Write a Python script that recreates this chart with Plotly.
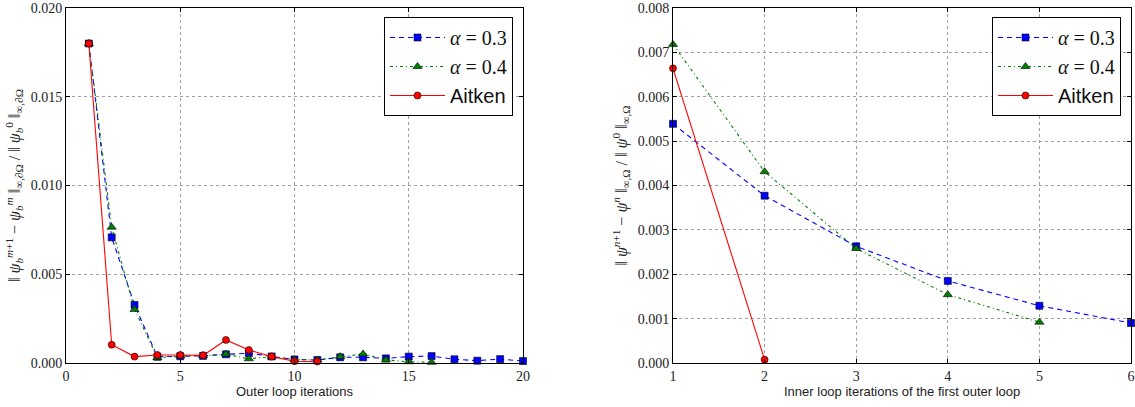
import plotly.graph_objects as go

# ---------------- data ----------------
outer_x_a03 = list(range(1, 21))
outer_a03 = [0.018, 0.00708, 0.00327, 0.00035, 0.00038, 0.00040, 0.00049, 0.00055, 0.00037, 0.00020,
             0.00017, 0.00032, 0.00032, 0.00026, 0.00036, 0.00039, 0.00021, 0.00013, 0.00022, 0.00011]
outer_x_a04 = list(range(1, 17))
outer_a04 = [0.018, 0.00765, 0.00302, 0.00030, 0.00040, 0.00042, 0.00050, 0.00024, 0.00035, 0.00020,
             0.00017, 0.00036, 0.00051, 0.00017, 0.00007, 0.00004]
outer_x_ait = list(range(1, 12))
outer_ait = [0.018, 0.00103, 0.00036, 0.00045, 0.00045, 0.00043, 0.00130, 0.00073, 0.00036, 0.00010, 0.00008]

inner_x_a03 = [1, 2, 3, 4, 5, 6]
inner_a03 = [0.00539, 0.00377, 0.00263, 0.00185, 0.00129, 0.00090]
inner_x_a04 = [1, 2, 3, 4, 5]
inner_a04 = [0.00718, 0.00431, 0.00258, 0.00154, 0.00092]
inner_x_ait = [1, 2]
inner_ait = [0.00664, 0.000075]

left_xticks = [0, 5, 10, 15, 20]
left_yticks = [0.000, 0.005, 0.010, 0.015, 0.020]
right_xticks = [1, 2, 3, 4, 5, 6]
right_yticks = [0.000, 0.001, 0.002, 0.003, 0.004, 0.005, 0.006, 0.007, 0.008]

left_xtitle = "Outer loop iterations"
right_xtitle = "Inner loop iterations of the first outer loop"
left_ytitle = ("‖ <i>ψ</i><sub><i>b</i></sub><sup><i>m</i>+1</sup> − <i>ψ</i><sub><i>b</i></sub><sup><i>m</i></sup> "
               "‖<sub>∞,∂Ω</sub> / ‖ <i>ψ</i><sub><i>b</i></sub><sup>0</sup> ‖<sub>∞,∂Ω</sub>")
right_ytitle = ("‖ <i>ψ</i><sup><i>n</i>+1</sup> − <i>ψ</i><sup><i>n</i></sup> ‖<sub>∞,Ω</sub> / "
                "‖ <i>ψ</i><sup>0</sup> ‖<sub>∞,Ω</sub>")

SERIF = "Liberation Serif"
SANS = "Liberation Sans"

names = ["<i>α</i> = 0.3", "<i>α</i> = 0.4",
         "<span style=\"font-family:'Liberation Sans'\">Aitken</span>"]

# ---------------- figure ----------------
W, H = 1135, 407
fig = go.Figure()

styles = [
    dict(color="#0000ff", dash="5px,4px", symbol="square", size=7),
    dict(color="#007f00", dash="3px,3px,1px,3px", symbol="triangle-up", size=8),
    dict(color="#ff0000", dash="solid", symbol="circle", size=7),
]

def add_series(xs, ys, st, name, xaxis, yaxis, legend):
    fig.add_trace(go.Scatter(
        x=xs, y=ys, mode="lines+markers", name=name,
        line=dict(color=st["color"], dash=st["dash"], width=1.1),
        marker=dict(symbol=st["symbol"], size=st["size"], color=st["color"],
                    line=dict(color="black", width=0.6)),
        xaxis=xaxis, yaxis=yaxis, legend=legend, cliponaxis=False,
    ))

add_series(outer_x_a03, outer_a03, styles[0], names[0], "x", "y", "legend")
add_series(outer_x_a04, outer_a04, styles[1], names[1], "x", "y", "legend")
add_series(outer_x_ait, outer_ait, styles[2], names[2], "x", "y", "legend")
add_series(inner_x_a03, inner_a03, styles[0], names[0], "x2", "y2", "legend2")
add_series(inner_x_a04, inner_a04, styles[1], names[1], "x2", "y2", "legend2")
add_series(inner_x_ait, inner_ait, styles[2], names[2], "x2", "y2", "legend2")

ybot, ytop = 363, 8
ydom = [(H - ybot) / H, (H - ytop) / H]
ldom = [66 / W, 523 / W]
rdom = [673 / W, 1131 / W]

axis_common = dict(
    showline=True, linecolor="black", linewidth=1, mirror="allticks",
    ticks="inside", ticklen=4, tickcolor="black", automargin=False,
    showgrid=True, gridcolor="#a0a0a0", griddash="dot", gridwidth=1,
    zeroline=False, tickfont=dict(family=SERIF, size=14, color="#222"),
    ticklabeloverflow="allow",
)

fig.update_layout(
    width=W, height=H,
    margin=dict(l=0, r=0, t=0, b=0, autoexpand=False),
    paper_bgcolor="white", plot_bgcolor="white",
    xaxis=dict(domain=ldom, range=[0, 20], tickvals=left_xticks, anchor="y", **axis_common),
    yaxis=dict(domain=ydom, range=[0, 0.02], tickvals=left_yticks, tickformat=".3f",
               title=dict(text=left_ytitle, font=dict(family=SERIF, size=16, color="#222"), standoff=6),
               anchor="x", **axis_common),
    xaxis2=dict(domain=rdom, range=[1, 6], tickvals=right_xticks, anchor="y2", **axis_common),
    yaxis2=dict(domain=ydom, range=[0, 0.008], tickvals=right_yticks, tickformat=".3f",
                title=dict(text=right_ytitle, font=dict(family=SERIF, size=16, color="#222"), standoff=6),
                anchor="x2", **axis_common),
    legend=dict(x=513 / W, xanchor="right", y=(H - 17) / H, yanchor="top",
                bordercolor="black", borderwidth=1, bgcolor="white",
                font=dict(family=SERIF, size=20, color="#111"), itemwidth=55),
    legend2=dict(x=1121 / W, xanchor="right", y=(H - 17) / H, yanchor="top",
                 bordercolor="black", borderwidth=1, bgcolor="white",
                 font=dict(family=SERIF, size=20, color="#111"), itemwidth=55),
    annotations=[
        dict(text=left_xtitle, xref="paper", yref="paper", x=sum(ldom) / 2, y=(H - 391) / H,
             xanchor="center", yanchor="middle", showarrow=False,
             font=dict(family=SANS, size=13, color="#222")),
        dict(text=right_xtitle, xref="paper", yref="paper", x=sum(rdom) / 2, y=(H - 391) / H,
             xanchor="center", yanchor="middle", showarrow=False,
             font=dict(family=SANS, size=13, color="#222")),
    ],
)

fig.write_html("out.html")
